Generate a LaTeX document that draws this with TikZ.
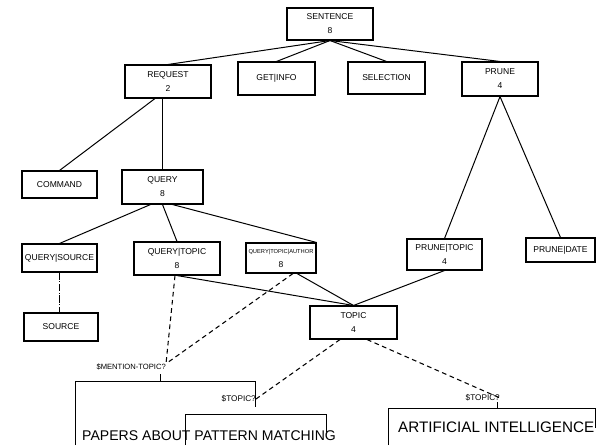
\documentclass[tikz,border=0pt]{standalone}
\usepackage{fontspec}
\setmainfont{Liberation Sans}
\usetikzlibrary{calc}
\begin{document}
\begin{tikzpicture}[x=0.03cm,y=-0.03cm,
  box/.style 2 args={draw, line width=0.9pt, rectangle,
    minimum width=#1*0.03cm, minimum height=#2*0.03cm,
    inner sep=0pt, align=center, font=\fontsize{7.3}{12}\selectfont},
  edge/.style={line width=0.85pt},
  ref/.style={line width=0.9pt, dash pattern=on 4pt off 3pt},
  link/.style={line width=0.6pt, dash pattern=on 6pt off 1.5pt on 0.8pt off 1.5pt},
  tag/.style={inner sep=0pt, font=\fontsize{6.5}{7}\selectfont},
  phrase/.style={inner sep=0pt, anchor=base west}
]
\useasboundingbox (0,0) rectangle (600,445);

% parse tree nodes
\node[box={86}{32}] (sent)  at (330,24)    {SENTENCE\\8};
\node[box={86}{33}] (req)   at (168,81.5)  {REQUEST\\2};
\node[box={77}{33}] (get)   at (276.5,78.5){GET\textbar INFO};
\node[box={77}{32}] (sel)   at (386.5,78)  {SELECTION};
\node[box={76}{34}] (prune) at (500,79)    {PRUNE\\4};
\node[box={75}{27}] (cmd)   at (59.5,184.5){COMMAND};
\node[box={81}{34}] (qry)   at (162.5,187) {QUERY\\8};
\node[box={75}{28}] (qs)    at (59.5,258)  {QUERY\textbar SOURCE};
\node[box={86}{33}] (qt)    at (177,258.5) {QUERY\textbar TOPIC\\8};
\node[box={70}{30}, font=\fontsize{4.9}{12}\selectfont] (qta) at (281,258)
  {QUERY\textbar TOPIC\textbar AUTHOR\\{\fontsize{7.3}{12}\selectfont 8}};
\node[box={75}{31}] (pt)    at (444.5,254.5){PRUNE\textbar TOPIC\\4};
\node[box={69}{24}] (pd)    at (560.5,250) {PRUNE\textbar DATE};
\node[box={74}{28}] (src)   at (61,327)    {SOURCE};
\node[box={87}{33}] (topic) at (353.5,322.5){TOPIC\\4};

% tree edges
\draw[edge] (sent.south) -- (req.north);
\draw[edge] (sent.south) -- (get.north);
\draw[edge] (sent.south) -- (sel.north);
\draw[edge] (sent.south) -- (prune.north);
\draw[edge] ($(req.south)+(-13,0)$) -- (cmd.north);
\draw[edge] (req.south -| qry.north) -- (qry.north);
\draw[edge] ($(qry.south)+(-12,0)$) -- (qs.north);
\draw[edge] (qry.south) -- (qt.north);
\draw[edge] ($(qry.south)+(10,0)$) -- (qta.north east);
\draw[edge] (prune.south) -- (pt.north);
\draw[edge] (prune.south) -- (pd.north);
\draw[edge] (qt.south) -- (topic.north);
\draw[edge] ($(qta.south)+(16,0)$) -- (topic.north);
\draw[edge] (pt.south) -- (topic.north);
\draw[link] (qs.south) -- (qs.south |- src.north);

% variable tags over the phrase brackets
\node[tag, anchor=east] (mention) at (166,367) {\$MENTION-TOPIC?};
\node[tag, anchor=east, font=\fontsize{7}{8}\selectfont] (tagl) at (256,399) {\$TOPIC?};
\node[tag, anchor=east, font=\fontsize{7}{8}\selectfont] (tagr) at (500,398) {\$TOPIC?};

% references from semantic nodes to the tags
\draw[ref] ($(qt.south)+(-2,0)$) -- (mention.north east);
\draw[ref] ($(qta.south)+(12,0)$) -- (mention.north east);
\draw[ref] ($(topic.south)+(-13.5,0)$) -- (tagl.east);
\draw[ref] ($(topic.south)+(13.5,0)$) -- (tagr.east);

% phrase brackets
\draw[edge] (75,445) |- (255,381) -- (255,407);
\draw[edge] (160,374) -- (160,381);
\draw[edge] (185,445) |- (326,414) -- (326,432);
\draw[edge] (388,445) |- (595,408) -- (595,428);
\draw[edge] (497,402) -- (497,408);

% input phrases
\node[phrase, font=\fontsize{12}{14}\selectfont] (p1) at (82,440) {PAPERS ABOUT PATTERN MATCHING};
\node[phrase, font=\fontsize{13}{14}\selectfont] (p2) at (398,432) {ARTIFICIAL INTELLIGENCE};
\end{tikzpicture}
\end{document}
